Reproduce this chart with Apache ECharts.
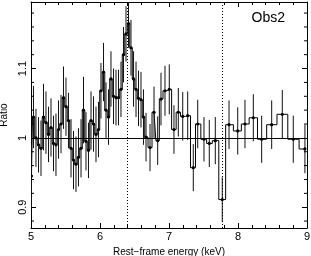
<!DOCTYPE html>
<html><head><meta charset="utf-8">
<script src="https://cdn.jsdelivr.net/npm/echarts@6/dist/echarts.min.js"></script>
<style>html,body{margin:0;padding:0;background:#fff}#c{width:311px;height:256px}</style>
</head><body><div id="c"></div>
<script>
// ---- data ----
const energy = [5.007,5.036,5.072,5.109,5.145,5.181,5.217,5.254,5.290,5.326,5.362,5.399,5.435,5.471,5.507,5.543,5.580,5.616,5.652,5.688,5.725,5.761,5.797,5.833,5.870,5.906,5.942,5.978,6.014,6.051,6.087,6.123,6.159,6.196,6.232,6.268,6.304,6.341,6.377,6.413,6.449,6.486,6.522,6.558,6.594,6.630,
  6.667,6.725,6.783,6.836,6.884,6.942,7.004,7.072,7.135,7.199,7.271,7.352,7.416,7.507,7.584,7.671,7.772,7.870,7.996,8.101,8.222,8.343,8.488,8.642,8.801,8.970];
const ratio = [0.945,1.030,1.000,0.990,0.985,1.030,1.022,1.005,1.015,0.992,0.990,1.012,1.020,1.058,1.045,1.025,0.985,0.968,0.962,0.972,0.985,1.040,0.995,0.982,1.025,1.020,1.005,1.012,1.068,1.095,1.040,1.030,1.085,1.060,1.058,1.058,1.070,1.120,1.150,1.165,1.130,1.085,1.070,1.057,1.055,1.030,
  1.001,0.986,1.037,0.996,1.056,1.068,1.070,1.012,1.037,1.031,1.032,0.957,1.020,0.998,0.992,0.996,0.911,1.019,1.010,1.020,1.029,0.998,1.019,1.034,0.998,0.984];
const ratioErr = [0.045,0.045,0.042,0.040,0.040,0.048,0.045,0.040,0.042,0.040,0.045,0.042,0.042,0.045,0.042,0.040,0.042,0.042,0.040,0.042,0.042,0.048,0.042,0.040,0.042,0.040,0.040,0.040,0.040,0.042,0.040,0.040,0.040,0.040,0.040,0.040,0.040,0.040,0.040,0.035,0.040,0.040,0.040,0.040,0.040,0.040,
  0.035,0.034,0.037,0.035,0.038,0.036,0.036,0.035,0.035,0.035,0.035,0.034,0.035,0.032,0.034,0.034,0.032,0.035,0.034,0.035,0.034,0.034,0.035,0.035,0.034,0.035];
const lineEnergies = [6.4, 7.77];
const refRatio = 1;
const xTicks = [5, 6, 7, 8, 9];
const yTicks = [0.9, 1, 1.1];
const yMinorTicks = [0.88,0.92,0.94,0.96,0.98,1.02,1.04,1.06,1.08,1.12,1.14,1.16,1.18];
const xRange = [5, 9];
const yRange = [0.87, 1.196];
const panelLabel = 'Obs2';
const xTitle = 'Rest\u2212frame energy (keV)';
const yTitle = 'Ratio';

// ---- chart ----
const FONT = 'Liberation Sans, Arial, sans-serif';
const chart = echarts.init(document.getElementById('c'), null, {renderer: 'canvas'});
const pts = energy.map((e, i) => [e, ratio[i]]);
const errData = energy.map((e, i) => [e, ratio[i], ratioErr[i]]);
const isTick = (v, arr) => arr.some(t => Math.abs(t - v) < 1e-9);

const baseX = {
  type: 'value', min: xRange[0], max: xRange[1], interval: 1,
  axisLine: {show: true, lineStyle: {color: '#000', width: 1}},
  axisTick: {show: true, inside: true, length: 5, lineStyle: {color: '#000', width: 1}},
  minorTick: {show: true, splitNumber: 5, length: 3, lineStyle: {color: '#000', width: 1}},
  splitLine: {show: false}, minorSplitLine: {show: false}
};
const baseY = {
  type: 'value', min: yRange[0], max: yRange[1], minInterval: 0.1, maxInterval: 0.1, splitNumber: 3,
  axisLine: {show: true, lineStyle: {color: '#000', width: 1}},
  axisTick: {show: true, inside: true, length: 5, lineStyle: {color: '#000', width: 1}},
  minorTick: {show: false},
  splitLine: {show: false}
};

function minorTickItem(side) {
  return function (params, api) {
    const v = api.value(1);
    const p = api.coord([side === 'left' ? xRange[0] : xRange[1], v]);
    const dx = side === 'left' ? 3 : -3;
    return {type: 'line', shape: {x1: p[0], y1: p[1], x2: p[0] + dx, y2: p[1]},
      style: {stroke: '#000', lineWidth: 1}};
  };
}

chart.setOption({
  animation: false,
  backgroundColor: '#fff',
  title: {text: panelLabel, right: 26, top: 11, padding: 0,
    textStyle: {fontFamily: FONT, fontSize: 14, fontWeight: 'normal', color: '#000'}},
  grid: {left: 31, right: 4, top: 2, bottom: 28, containLabel: false, outerBoundsMode: 'none'},
  xAxis: [
    Object.assign({}, baseX, {position: 'bottom',
      axisLabel: {show: true, margin: 3, fontFamily: FONT, fontSize: 11, color: '#000',
        formatter: v => isTick(v, xTicks) ? String(v) : ''},
      name: xTitle, nameLocation: 'middle', nameGap: 15,
      nameTextStyle: {fontFamily: FONT, fontSize: 10, color: '#000'}}),
    Object.assign({}, baseX, {position: 'top', axisLabel: {show: false}})
  ],
  yAxis: [
    Object.assign({}, baseY, {position: 'left',
      axisLabel: {show: true, rotate: 90, margin: 3, fontFamily: FONT, fontSize: 11, color: '#000',
        formatter: v => isTick(v, yTicks) ? String(Math.round(v * 10) / 10) : ''},
      name: yTitle, nameLocation: 'middle', nameGap: 21,
      nameTextStyle: {fontFamily: FONT, fontSize: 10, color: '#000'}}),
    Object.assign({}, baseY, {position: 'right', axisLabel: {show: false}})
  ],
  series: [
    {
      type: 'line', data: pts, step: 'middle', showSymbol: false, symbol: 'none',
      lineStyle: {color: '#000', width: 1}, clip: true, z: 2,
      markLine: {
        silent: true, symbol: ['none', 'none'], label: {show: false},
        data: [
          {yAxis: refRatio, lineStyle: {color: '#000', width: 1, type: 'solid'}},
          ...lineEnergies.map(e => ({xAxis: e, lineStyle: {color: '#000', width: 1, type: [1, 2]}}))
        ]
      }
    },
    {
      type: 'custom', data: errData, clip: true, z: 3,
      renderItem: function (params, api) {
        const x = api.value(0), y = api.value(1), e = api.value(2);
        const lo = api.coord([x, y - e]), hi = api.coord([x, y + e]), c = api.coord([x, y]);
        return {type: 'group', children: [
          {type: 'line', shape: {x1: lo[0], y1: lo[1], x2: hi[0], y2: hi[1]}, style: {stroke: '#111', lineWidth: 1}},
          {type: 'circle', shape: {cx: c[0], cy: c[1], r: 1.6}, style: {fill: '#000'}}
        ]};
      }
    },
    {type: 'custom', data: yMinorTicks.map(v => [xRange[0], v]), renderItem: minorTickItem('left'), clip: false, z: 4},
    {type: 'custom', data: yMinorTicks.map(v => [xRange[1], v]), renderItem: minorTickItem('right'), clip: false, z: 4}
  ]
});
</script></body></html>
